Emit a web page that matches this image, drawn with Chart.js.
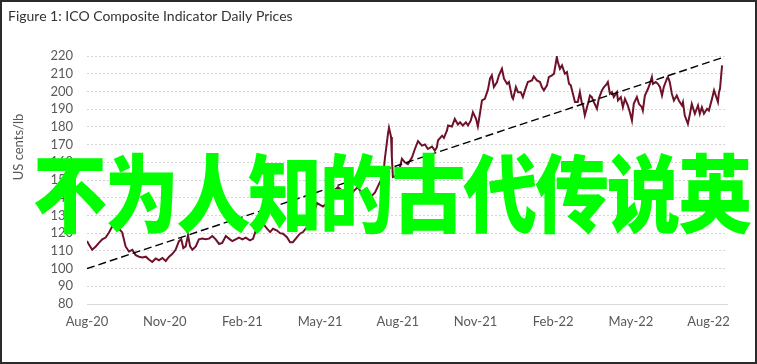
<!DOCTYPE html>
<html>
<head>
<meta charset="utf-8">
<script src="https://cdn.jsdelivr.net/npm/chart.js@4.4.0/dist/chart.umd.min.js"></script>
<style>
html,body{margin:0;padding:0;background:#fff;}
#wrap{position:relative;width:757px;height:364px;overflow:hidden;}
#c{position:absolute;left:0;top:0;}
#wm{position:absolute;left:33px;top:147px;font-family:"Noto Sans CJK SC";font-weight:900;font-size:74px;line-height:1;letter-spacing:-2.3px;color:#00ff00;white-space:nowrap;pointer-events:none;transform:scaleY(1.15);transform-origin:0 0;}
</style>
</head>
<body>
<div id="wrap">
<canvas id="c" width="757" height="364" style="width:757px;height:364px"></canvas>
<div id="wm">不为人知的古代传说英</div>
</div>
<script>
// Months since Aug-2020 (x) and ICO composite price, US cents/lb (y)
const monthOffsets = [
0,0.08,0.20,0.34,0.46,0.59,0.72,0.85,0.98,1.11,1.24,1.36,1.49,1.62,1.75,1.88,2.01,2.14,2.27,2.39,
2.52,2.65,2.78,2.91,3.04,3.17,3.29,3.42,3.55,3.64,3.72,3.81,3.90,3.98,4.07,4.20,4.32,4.45,4.58,4.71,
4.84,4.97,5.10,5.22,5.36,5.48,5.61,5.74,5.87,6.00,6.13,6.29,6.41,6.56,6.68,6.80,6.95,7.07,7.18,7.34,
7.45,7.57,7.72,7.84,7.95,8.11,8.22,8.34,8.49,8.61,8.73,8.88,9.00,9.11,9.27,9.38,9.54,9.69,9.85,10.00,
10.15,10.31,10.46,10.62,10.73,10.93,11.12,11.31,11.43,11.50,11.62,11.66,11.74,11.77,11.81,11.97,12.08,12.16,12.27,12.39,
12.55,12.66,12.78,12.93,13.05,13.16,13.32,13.43,13.51,13.55,13.71,13.78,13.90,13.94,14.09,14.20,14.32,14.40,14.51,14.63,
14.71,14.82,14.90,15.02,15.09,15.17,15.25,15.36,15.48,15.56,15.63,15.71,15.83,15.90,16.02,16.10,16.22,16.29,16.41,16.45,
16.56,16.64,16.75,16.83,16.91,17.02,17.18,17.25,17.37,17.49,17.56,17.64,17.76,17.83,17.95,18.03,18.14,18.18,18.26,18.34,
18.45,18.53,18.61,18.68,18.76,18.84,18.95,19.03,19.11,19.15,19.22,19.34,19.42,19.49,19.57,19.69,19.76,19.88,19.96,20.07,
20.11,20.19,20.27,20.34,20.46,20.50,20.61,20.69,20.77,20.88,20.96,21.04,21.11,21.23,21.31,21.42,21.46,21.54,21.66,21.73,
21.81,21.85,21.96,22.04,22.12,22.20,22.27,22.39,22.43,22.50,22.58,22.66,22.77,22.85,22.97,23.01,23.08,23.20,23.28,23.35,
23.47,23.59,23.66,23.74,23.82,23.94,24.01,24.13,24.21,24.32,24.36,24.40,24.44,24.52
];
const prices = [
115.5,113.5,110.6,112.5,114.5,116.5,117.5,120.4,124.0,124.7,122.4,120.4,112.5,109.6,110.6,107.6,106.7,106.3,106.7,105.1,
103.7,105.7,104.7,106.0,104.3,106.7,108.2,110.6,115.5,116.5,111.6,112.5,118.8,112.5,110.6,112.5,116.5,116.9,116.5,116.9,
118.4,116.5,113.9,114.5,118.4,116.9,115.5,116.5,117.5,116.5,117.5,115.9,116.8,123.4,129.0,125.3,122.5,120.6,122.5,121.5,
120.0,119.7,117.7,114.9,114.9,117.7,119.7,120.6,123.4,125.3,130.0,137.0,136.0,135.0,137.0,140.0,144.0,146.0,144.0,143.0,
141.0,144.0,146.0,142.0,138.5,140.0,143.0,148.8,151.6,162.0,176.0,179.5,174.3,163.0,151.6,152.5,157.0,162.0,160.0,159.0,
162.8,167.5,171.9,169.4,170.0,167.5,168.9,166.6,168.5,172.3,175.0,173.8,178.0,180.8,180.2,184.5,181.3,182.6,180.8,182.6,
180.8,183.6,188.3,184.5,180.2,187.4,194.9,195.8,201.0,207.2,209.0,202.5,205.3,209.0,212.8,207.2,204.3,205.3,196.8,195.8,
202.5,199.6,199.6,196.8,200.6,205.3,206.2,208.5,206.2,205.3,202.5,200.6,203.4,208.1,209.0,210.0,219.4,216.6,212.8,214.7,
210.0,210.9,204.3,203.4,198.7,194.0,194.0,199.6,193.0,192.1,186.4,193.0,197.7,196.8,194.0,190.2,195.8,200.6,202.5,204.3,
205.3,198.7,199.6,196.8,199.6,194.9,196.8,191.1,195.8,192.1,188.3,183.6,193.0,196.8,193.0,191.1,189.2,197.7,201.5,204.3,
208.1,204.3,205.3,204.3,202.5,197.7,202.5,207.2,208.1,205.3,198.7,194.9,197.7,194.9,192.1,194.0,186.4,181.7,187.4,193.0,
187.4,192.1,187.4,191.1,187.4,190.2,189.2,195.8,200.6,195.8,194.0,199.6,201.5,214.7
];
// Linear trend (dashed)
const trendMonths = [0, 24.52];
const trendValues = [100, 219];
// Axis ticks
const tickMonths = [0, 3, 6, 9, 12, 15, 18, 21, 24];
const tickLabels = ['Aug-20','Nov-20','Feb-21','May-21','Aug-21','Nov-21','Feb-22','May-22','Aug-22'];
const yTicks = [80, 90, 100, 110, 120, 130, 140, 150, 160, 170, 180, 190, 200, 210, 220];

const FONT = 'Lato';
const priceData = monthOffsets.map((m, i) => ({x: m, y: prices[i]}));
const trendData = trendMonths.map((m, i) => ({x: m, y: trendValues[i]}));

const frame = {
  id: 'frame',
  beforeDraw(chart) {
    const ctx = chart.ctx;
    ctx.save();
    ctx.fillStyle = '#fff';
    ctx.fillRect(0, 0, chart.width, chart.height);
    ctx.restore();
  },
  afterDraw(chart) {
    const ctx = chart.ctx;
    ctx.save();
    ctx.strokeStyle = '#2b2b2b';
    ctx.lineWidth = 2;
    ctx.strokeRect(1, 1, chart.width - 2, chart.height - 2);
    ctx.fillStyle = '#333';
    ctx.font = '14px ' + FONT;
    ctx.textBaseline = 'alphabetic';
    ctx.fillText('Figure 1: ICO Composite Indicator Daily Prices', 8, 21);
    ctx.translate(19, 147);
    ctx.rotate(-Math.PI / 2);
    ctx.textAlign = 'center';
    ctx.textBaseline = 'middle';
    ctx.fillStyle = '#595959';
    ctx.font = '13px ' + FONT;
    ctx.fillText('US cents/lb', 0, 0);
    ctx.restore();
  }
};

new Chart(document.getElementById('c'), {
  type: 'line',
  data: {
    datasets: [
      {data: trendData, borderColor: '#000', borderWidth: 1.4, borderDash: [8, 4], pointRadius: 0, tension: 0, fill: false},
      {data: priceData, borderColor: '#6e1229', borderWidth: 2, pointRadius: 0, tension: 0, fill: false}
    ]
  },
  options: {
    responsive: false,
    devicePixelRatio: 1,
    animation: false,
    events: [],
    layout: {padding: {left: 0, top: 56, right: 30, bottom: 0}},
    plugins: {legend: {display: false}, tooltip: {enabled: false}, title: {display: false}},
    scales: {
      x: {
        type: 'linear', min: 0, max: 24.71,
        afterBuildTicks: s => { s.ticks = tickMonths.map(v => ({value: v})); },
        afterFit: s => { s.height = 60; },
        grid: {display: false, drawTicks: false},
        border: {display: true, color: '#d9d9d9', width: 1},
        ticks: {
          padding: 10, autoSkip: false, maxRotation: 0, color: '#595959',
          font: {family: FONT, size: 13},
          callback: v => tickLabels[tickMonths.indexOf(v)] || ''
        }
      },
      y: {
        type: 'linear', min: 80, max: 220,
        afterBuildTicks: s => { s.ticks = yTicks.map(v => ({value: v})); },
        afterFit: s => { s.width = 87; },
        grid: {color: '#d4d4d4', lineWidth: 1, drawTicks: false},
        border: {display: false, dash: [2, 2]},
        ticks: {padding: 14, autoSkip: false, color: '#595959', font: {family: FONT, size: 13}}
      }
    }
  },
  plugins: [frame]
});
</script>
</body>
</html>
